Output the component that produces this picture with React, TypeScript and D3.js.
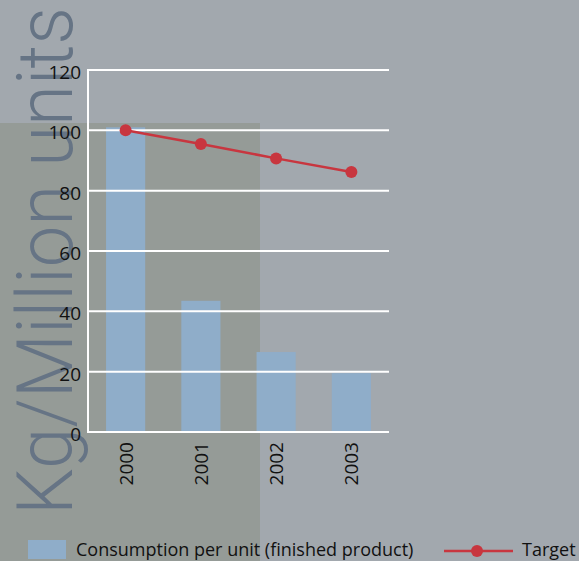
import React from 'react';
import * as d3 from 'd3';

const years = ['2000', '2001', '2002', '2003'];
const consumption = [101, 43.5, 26.5, 19.5];
const target = [100, 95.5, 90.7, 86.2];
const yTicks = [0, 20, 40, 60, 80, 100, 120];

const W = 579;
const H = 561;
const FONT = '"Open Sans", "Noto Sans", sans-serif';

const App = () => {
  const x = d3.scaleBand<string>().domain(years).range([88, 389]).paddingInner(0.48).paddingOuter(0.24);
  const y = d3.scaleLinear().domain([0, 120]).range([432, 70]);
  const cx = (i: number) => (x(years[i]) as number) + x.bandwidth() / 2;
  const line = d3.line<number>().x((_, i) => cx(i)).y(d => y(d));

  return (
    <svg width={W} height={H} style={{ position: 'absolute', left: 0, top: 0 }}>
      <rect x={0} y={0} width={W} height={H} fill="#a2a8ae" />
      <rect x={0} y={123} width={260} height={H - 123} fill="#959b97" />

      {/* big axis title */}
      <text
        transform="translate(72,515) rotate(-90)"
        fontFamily='Roboto, "Noto Sans", sans-serif'
        fontSize={77}
        fontWeight={300}
        fill="#667485"
        textLength={508}
        lengthAdjust="spacingAndGlyphs"
      >Kg/Million units</text>

      {/* bars */}
      {years.map((yr, i) => (
        <rect key={yr} x={x(yr)} y={y(consumption[i])} width={x.bandwidth()} height={y(0) - y(consumption[i])} fill="#8fadc9" />
      ))}

      {/* gridlines */}
      {yTicks.map(t => (
        <line key={t} x1={88} x2={389} y1={y(t)} y2={y(t)} stroke="#fff" strokeWidth={2} />
      ))}
      <line x1={88} x2={88} y1={y(120) - 1} y2={y(0) + 1} stroke="#fff" strokeWidth={2} />

      {/* y tick labels */}
      {yTicks.map(t => (
        <text key={t} x={81} y={y(t) + 2} textAnchor="end" dominantBaseline="central" fontFamily={FONT} fontSize={19} fill="#111">{t}</text>
      ))}

      {/* x tick labels */}
      {years.map((yr, i) => (
        <text
          key={yr}
          transform={`translate(${cx(i)},442) rotate(-90)`}
          textAnchor="end"
          dominantBaseline="central"
          fontFamily={FONT}
          fontSize={19}
          fill="#111"
        >{yr}</text>
      ))}

      {/* target line */}
      <path d={line(target) || ''} fill="none" stroke="#c8363f" strokeWidth={2.5} />
      {target.map((v, i) => (
        <circle key={i} cx={cx(i)} cy={y(v)} r={6} fill="#c8363f" />
      ))}

      {/* legend */}
      <rect x={28} y={540} width={38} height={19} fill="#8fadc9" />
      <text x={76} y={556} fontFamily={FONT} fontSize={18} fill="#111">Consumption per unit (finished product)</text>
      <line x1={444} x2={513} y1={551} y2={551} stroke="#c8363f" strokeWidth={2.5} />
      <circle cx={477} cy={551} r={6} fill="#c8363f" />
      <text x={522} y={556} fontFamily={FONT} fontSize={18} fill="#111">Target</text>
    </svg>
  );
};

export default App;
